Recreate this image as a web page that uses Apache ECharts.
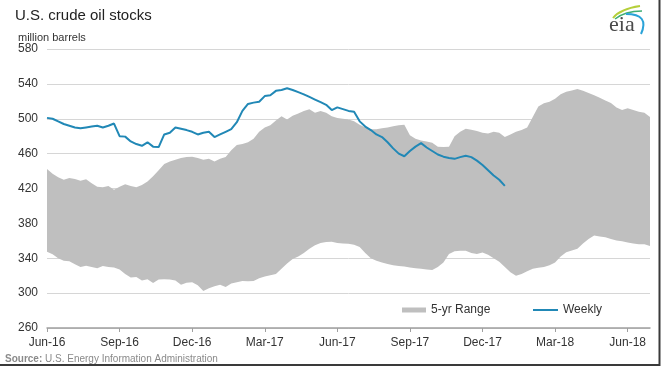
<!DOCTYPE html>
<html><head><meta charset="utf-8">
<script src="https://cdn.jsdelivr.net/npm/echarts/dist/echarts.min.js"></script>
<style>html,body{margin:0;padding:0;background:#fff}#c{width:664px;height:368px}</style>
</head><body><div id="c"></div>
<script>
// x-axis tick labels (one every 13 weeks)
const tickLabels = ['Jun-16','Sep-16','Dec-16','Mar-17','Jun-17','Sep-17','Dec-17','Mar-18','Jun-18'];
const weeksPerTick = 13;
const weekCount = 109;

// 5-year range, upper bound (million barrels)
const rangeHigh = [
442.5,437,433,430,432,431,429,430.5,426,422,421.5,423,418.5,422,425,423,421.5,424,428,434,
441,448,451,453,455,456,456.5,455,453,454,451,454,456,464,470,471,473,477,485,490,
492.5,498,503,499,503.5,506,509,511,507,509,507,503,501,500,499,497,493,490,488,488,
489,490,491.5,492.5,493,481,477,475,474,472.5,468,467.5,468,480,485,488.5,487.5,486,484,483,
485,484,479,482,485,487,490,502,514,517.7,519.5,523,528,531,532.5,534,532,529.5,527,524,
521,518,513,510,512,510,508,507,502
];
// 5-year range, lower bound (million barrels)
const rangeLow = [
347.5,344.5,340,337,336.5,333,330,331.5,330,328.5,331,330,329.5,327,322,318,318.5,314.5,316,311.5,
315.5,316,315.5,314.5,309.5,312,312.5,309,302.5,305.5,308,309.5,307,311,312.5,314,313.5,314,317,319,
320.5,322,328,334,339,342,346,351,355,357.5,358.5,359,357.5,357,356.5,355.5,353,346,340,337,
335,333.5,332,331,330.5,329.5,328.5,328,327,326.5,330,335,345,348,348.5,348.5,346,345,346.5,344,
340,336,330,324,320,322,325,328,329,330,332,335,342,347,349,351,357,362,366,365,
364,362,360.5,359.5,358,357,356,356,354
];
// Weekly U.S. crude oil stocks (million barrels)
const weekly = [
501,500,497,494,492,490,489,490,491,492,490,492,494.5,480,479.5,474,471,469,473,468,
467.5,482,484,490,488.5,487,485,482,484,485,479,482,485,488,496,509,517,518.5,519.5,526,
527,532,533,535,533,530.5,528,525,522,519,516,510,513,511,509,508,497,491,487,482,
479,473,466,460,457,463,468,472,467,463,459,456.5,455,454,456,457.5,456,452,447,441,
435,430,423
];

// weekly category dates
const categories = [];
{
  const d0 = new Date(Date.UTC(2016, 5, 3));
  for (let i = 0; i < weekCount; i++) {
    const d = new Date(d0.getTime() + i * 7 * 86400000);
    categories.push(d.toISOString().slice(0, 10));
  }
}
const rangeSpan = rangeHigh.map((v, i) => +(v - rangeLow[i]).toFixed(2));

const chart = echarts.init(document.getElementById('c'), null, {renderer: 'canvas'});
const FONT = 'Liberation Sans, Arial, sans-serif';
const isTick = (idx) => idx % weeksPerTick === 0;

chart.setOption({
  animation: false,
  backgroundColor: '#fff',
  textStyle: {fontFamily: FONT},
  title: [
    {text: 'U.S. crude oil stocks', left: 10, top: 3,
     textStyle: {fontSize: 15, fontWeight: 'normal', color: '#222', fontFamily: FONT}},
    {text: 'million barrels', left: 13, top: 27,
     textStyle: {fontSize: 11, fontWeight: 'normal', color: '#333', fontFamily: FONT}},
    {text: '{b|Source:} U.S. Energy Information Administration', left: 0, top: 349,
     textStyle: {fontSize: 10, fontWeight: 'normal', color: '#8a8a8a', fontFamily: FONT,
       rich: {b: {fontWeight: 'bold', fontSize: 10, color: '#8a8a8a', fontFamily: FONT}}}}
  ],
  grid: {left: 47, right: 14, top: 49, bottom: 40, containLabel: false},
  xAxis: {
    type: 'category',
    data: categories,
    boundaryGap: false,
    axisLine: {show: true, lineStyle: {color: '#a0a0a0', width: 1.5}},
    axisTick: {show: true, interval: (i) => isTick(i), length: 4, inside: false,
      lineStyle: {color: '#a0a0a0', width: 1}},
    axisLabel: {interval: (i) => isTick(i), margin: 9, fontSize: 12, color: '#333',
      formatter: (v, i) => tickLabels[Math.round(i / weeksPerTick)] || ''},
    splitLine: {show: false}
  },
  yAxis: {
    type: 'value', min: 260, max: 580, interval: 40,
    axisLine: {show: false}, axisTick: {show: false},
    axisLabel: {fontSize: 12, color: '#333', margin: 9},
    splitLine: {lineStyle: {color: '#d6d6d6', width: 1}}
  },
  legend: [
    {data: ['5-yr Range'], left: 397, top: 299, icon: 'rect', itemWidth: 24, itemHeight: 5,
     textStyle: {fontSize: 12, color: '#333', fontFamily: FONT}, selectedMode: false},
    {data: ['Weekly'], left: 528, top: 299, icon: 'rect', itemWidth: 25, itemHeight: 2,
     textStyle: {fontSize: 12, color: '#333', fontFamily: FONT}, selectedMode: false}
  ],
  series: [
    {name: 'low', type: 'line', data: rangeLow, stack: 'range', symbol: 'none',
     lineStyle: {opacity: 0}, silent: true},
    {name: '5-yr Range', type: 'line', data: rangeSpan, stack: 'range', symbol: 'none',
     itemStyle: {color: '#bfbfbf'}, lineStyle: {opacity: 0},
     areaStyle: {color: '#bfbfbf', opacity: 1}, silent: true},
    {name: 'Weekly', type: 'line', data: weekly, symbol: 'none', z: 5,
     itemStyle: {color: '#2188b6'}, lineStyle: {color: '#2188b6', width: 2}}
  ],
  graphic: [
    {type: 'text', left: 609, top: 14,
     style: {text: 'eia', fontFamily: 'Liberation Serif, DejaVu Serif, serif', fontSize: 22, fill: '#4a4a4a'}},
    {type: 'bezierCurve', shape: {x1: 613, y1: 18, x2: 640, y2: 6, cpx1: 620, cpy1: 9},
     style: {stroke: '#b5cf3a', lineWidth: 2, fill: null}},
    {type: 'bezierCurve', shape: {x1: 615, y1: 19, x2: 642, y2: 11, cpx1: 625, cpy1: 11},
     style: {stroke: '#3fae74', lineWidth: 1.5, fill: null}},
    {type: 'bezierCurve', shape: {x1: 626, y1: 14, x2: 641, y2: 34, cpx1: 650, cpy1: 14},
     style: {stroke: '#2ba3d8', lineWidth: 2, fill: null}},
    {type: 'polyline', shape: {points: [[0, 365], [659.5, 365], [659.5, 0]]},
     style: {stroke: '#3a3a3a', lineWidth: 2, fill: null}}
  ]
});
</script>
</body></html>
